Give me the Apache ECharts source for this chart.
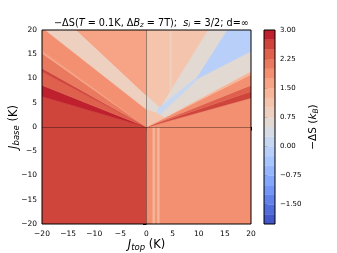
<!DOCTYPE html>
<html><head><meta charset="utf-8">
<script src="https://cdn.jsdelivr.net/npm/echarts@6/dist/echarts.min.js"></script>
<style>html,body{margin:0;padding:0;background:#fff}#c{width:337px;height:253px}</style>
</head><body><div id="c"></div>
<script>
// ---------------- data ----------------
// contour level edges of -ΔS (k_B)
const levelEdges = [-2.0,-1.75,-1.5,-1.25,-1.0,-0.75,-0.5,-0.25,0.0,0.25,0.5,0.75,1.0,1.25,1.5,1.75,2.0,2.25,2.5,2.75,3.0];
const colorbarTicks = [-1.5,-0.75,0.0,0.75,1.5,2.25,3.0];

// regions of constant -ΔS in the (J_top, J_base) plane, painted in order
const regionValues = [
  2.6, 1.9, 1.4, 1.4,                 // lower half
  2.6, 2.9, 2.4, 2.6, 2.1, 1.6, 1.9,  // upper-left fan
  0.9, 1.6,                           // upper-left light band + region above it
  1.9, 2.6, 2.4, 1.9, 1.4, 1.2,       // upper-right fan
  0.6, 0.9, -0.1, 0.1                 // upper-right grey V, stripe, blue wedge, blue tail
];
const regionPolys = [
  [[-20,-20],[0,-20],[0,0],[-20,0]],
  [[0,-20],[20,-20],[20,0],[0,0]],
  [[1.2,-20],[1.6,-20],[1.6,0],[1.2,0]],
  [[2.05,-20],[2.45,-20],[2.45,0],[2.05,0]],

  [[0,0],[-20,0],[-20,6.3]],
  [[0,0],[-20,6.3],[-20,8.6]],
  [[0,0],[-20,8.6],[-20,11.4]],
  [[0,0],[-20,11.4],[-20,12.1]],
  [[0,0],[-20,12.1],[-20,15.2]],
  [[0,0],[-20,15.2],[-20,15.7]],
  [[0,0],[-20,15.7],[-20,20],[0,20]],

  [[-19.4,20],[-13.4,20],[0,6.5],[0,3.6]],
  [[-13.4,20],[0,20],[0,6.5]],

  [[0,0],[20,0],[20,6.0]],
  [[0,0],[20,6.0],[20,7.3]],
  [[0,0],[20,7.3],[20,8.6]],
  [[0,0],[20,8.6],[20,10.8]],
  [[0,0],[20,10.8],[20,11.5]],
  [[0,0],[20,11.5],[20,20],[0,20]],

  [[0,6.5],[2.6,3.9],[11.8,20],[20,20],[20,11.5],[3.5,2.0],[2.0,3.0],[0,3.6]],
  [[4.5,7.2],[4.8,7.7],[4.8,20],[4.5,20]],
  [[9.4,9.75],[15.5,20],[20,20],[20,15.6]],
  [[2.0,3.1],[2.6,2.6],[9.6,9.6],[9.3,9.95],[2.3,3.9]]
];

// ---------------- style ----------------
const coolwarm = [
[59,76,192],[68,90,204],[77,104,215],[87,117,225],[98,130,234],[108,142,241],[119,154,247],[130,165,251],
[141,176,254],[152,185,255],[163,194,255],[174,201,253],[184,208,249],[194,213,244],[204,217,238],[213,219,230],
[221,221,221],[229,216,209],[236,211,197],[241,204,185],[245,196,173],[247,187,160],[247,177,148],[247,166,135],
[244,154,123],[241,141,111],[236,127,99],[229,112,88],[222,96,77],[213,80,66],[203,62,56],[192,40,47],[180,4,38]];
function cmap(t){
  t=Math.max(0,Math.min(1,t));
  const f=t*(coolwarm.length-1), i=Math.min(Math.floor(f),coolwarm.length-2), u=f-i;
  const a=coolwarm[i], b=coolwarm[i+1];
  return 'rgb('+[0,1,2].map(k=>Math.round(a[k]+(b[k]-a[k])*u)).join(',')+')';
}
const nBands = levelEdges.length-1;
function bandIndex(v){
  for(let i=0;i<nBands;i++){ if(v>=levelEdges[i] && v<levelEdges[i+1]) return i; }
  return v<levelEdges[0]?0:nBands-1;
}
function bandColor(i){ return cmap((i+0.5)/nBands); }
const minus = v => (v<0?'\u2212':'')+Math.abs(v);
const FONT='DejaVu Sans';
function richName(size, subSize){
  return {fontFamily:FONT,fontSize:size,color:'#000',
    rich:{i:{fontFamily:FONT,fontSize:size,fontStyle:'italic',color:'#000'},
          s:{fontFamily:FONT,fontSize:subSize,fontStyle:'italic',color:'#000',padding:[Math.round(size*0.45),0,0,0]}}};
}

const chart = echarts.init(document.getElementById('c'), null, {renderer:'canvas'});
chart.setOption({
  animation:false,
  backgroundColor:'#fff',
  title:{
    left:49, top:13,
    text:'\u2212\u0394S({i|T} = 0.1K, \u0394{i|B}{s|z} = 7T);  {i|s}{s|i} = 3/2; d=\u221e',
    textStyle:Object.assign(richName(9.7,7),{fontWeight:'normal'})
  },
  grid:[
    {left:42, top:30, width:209, height:194, outerBoundsMode:'none', containLabel:false,
     show:true, z:10, backgroundColor:'transparent', borderColor:'#000', borderWidth:1},
    {left:264, top:30, width:11, height:194, outerBoundsMode:'none', containLabel:false,
     show:true, z:10, backgroundColor:'transparent', borderColor:'#000', borderWidth:1}
  ],
  xAxis:[
    {gridIndex:0, type:'value', min:-20, max:20, interval:5,
     axisLine:{show:false}, splitLine:{show:false},
     axisTick:{show:true, length:3.5, lineStyle:{color:'#000'}},
     axisLabel:{fontFamily:FONT, fontSize:7.5, color:'#000', margin:6, formatter:minus},
     name:'{i|J}{s|top} (K)', nameLocation:'middle', nameGap:14, nameMoveOverlap:false,
     nameTextStyle:richName(11.5,8.5)},
    {gridIndex:1, type:'value', min:0, max:1, show:false}
  ],
  yAxis:[
    {gridIndex:0, type:'value', min:-20, max:20, interval:5,
     axisLine:{show:false}, splitLine:{show:false},
     axisTick:{show:true, length:3.5, lineStyle:{color:'#000'}},
     axisLabel:{fontFamily:FONT, fontSize:7.5, color:'#000', margin:5, formatter:minus},
     name:'{i|J}{s|base} (K)', nameLocation:'middle', nameGap:21, nameRotate:90, nameMoveOverlap:false,
     nameTextStyle:richName(11.5,8.5)},
    {gridIndex:1, type:'value', min:levelEdges[0], max:levelEdges[levelEdges.length-1], position:'right',
     axisLine:{show:false}, splitLine:{show:false},
     axisTick:{show:true, length:3.5, lineStyle:{color:'#000'}, customValues:colorbarTicks},
     axisLabel:{fontFamily:FONT, fontSize:7, color:'#000', margin:5, customValues:colorbarTicks,
       formatter:v=>(v<0?'\u2212':'')+Math.abs(v).toFixed(2)},
     name:'\u2212\u0394S ({i|k}{s|B})', nameLocation:'middle', nameGap:32, nameRotate:90, nameMoveOverlap:false,
     nameTextStyle:richName(10.5,7.5)}
  ],
  series:[
    {type:'custom', xAxisIndex:0, yAxisIndex:0, clip:true, silent:true,
     data: regionValues.map((v,i)=>[i,v]),
     encode:{x:-1,y:-1},
     renderItem:function(params,api){
       const i=params.dataIndex;
       const pts=regionPolys[i].map(p=>api.coord(p));
       const c=bandColor(bandIndex(regionValues[i]));
       return {type:'polygon', shape:{points:pts}, style:{fill:c, stroke:c, lineWidth:0.5}};
     },
     markLine:{silent:true, symbol:['none','none'], label:{show:false},
       lineStyle:{color:'#000', opacity:0.35, width:1, type:'solid'},
       data:[{xAxis:0},{yAxis:0}]}
    },
    {type:'custom', xAxisIndex:1, yAxisIndex:1, clip:true, silent:true,
     data: levelEdges.slice(0,-1).map((lo,i)=>[i,lo]),
     encode:{x:-1,y:-1},
     renderItem:function(params,api){
       const i=params.dataIndex;
       const a=api.coord([0,levelEdges[i]]), b=api.coord([1,levelEdges[i+1]]);
       const c=bandColor(i);
       return {type:'rect', shape:{x:a[0], y:b[1], width:b[0]-a[0], height:a[1]-b[1]}, style:{fill:c, stroke:c, lineWidth:0.3}};
     }
    }
  ]
});
</script></body></html>
